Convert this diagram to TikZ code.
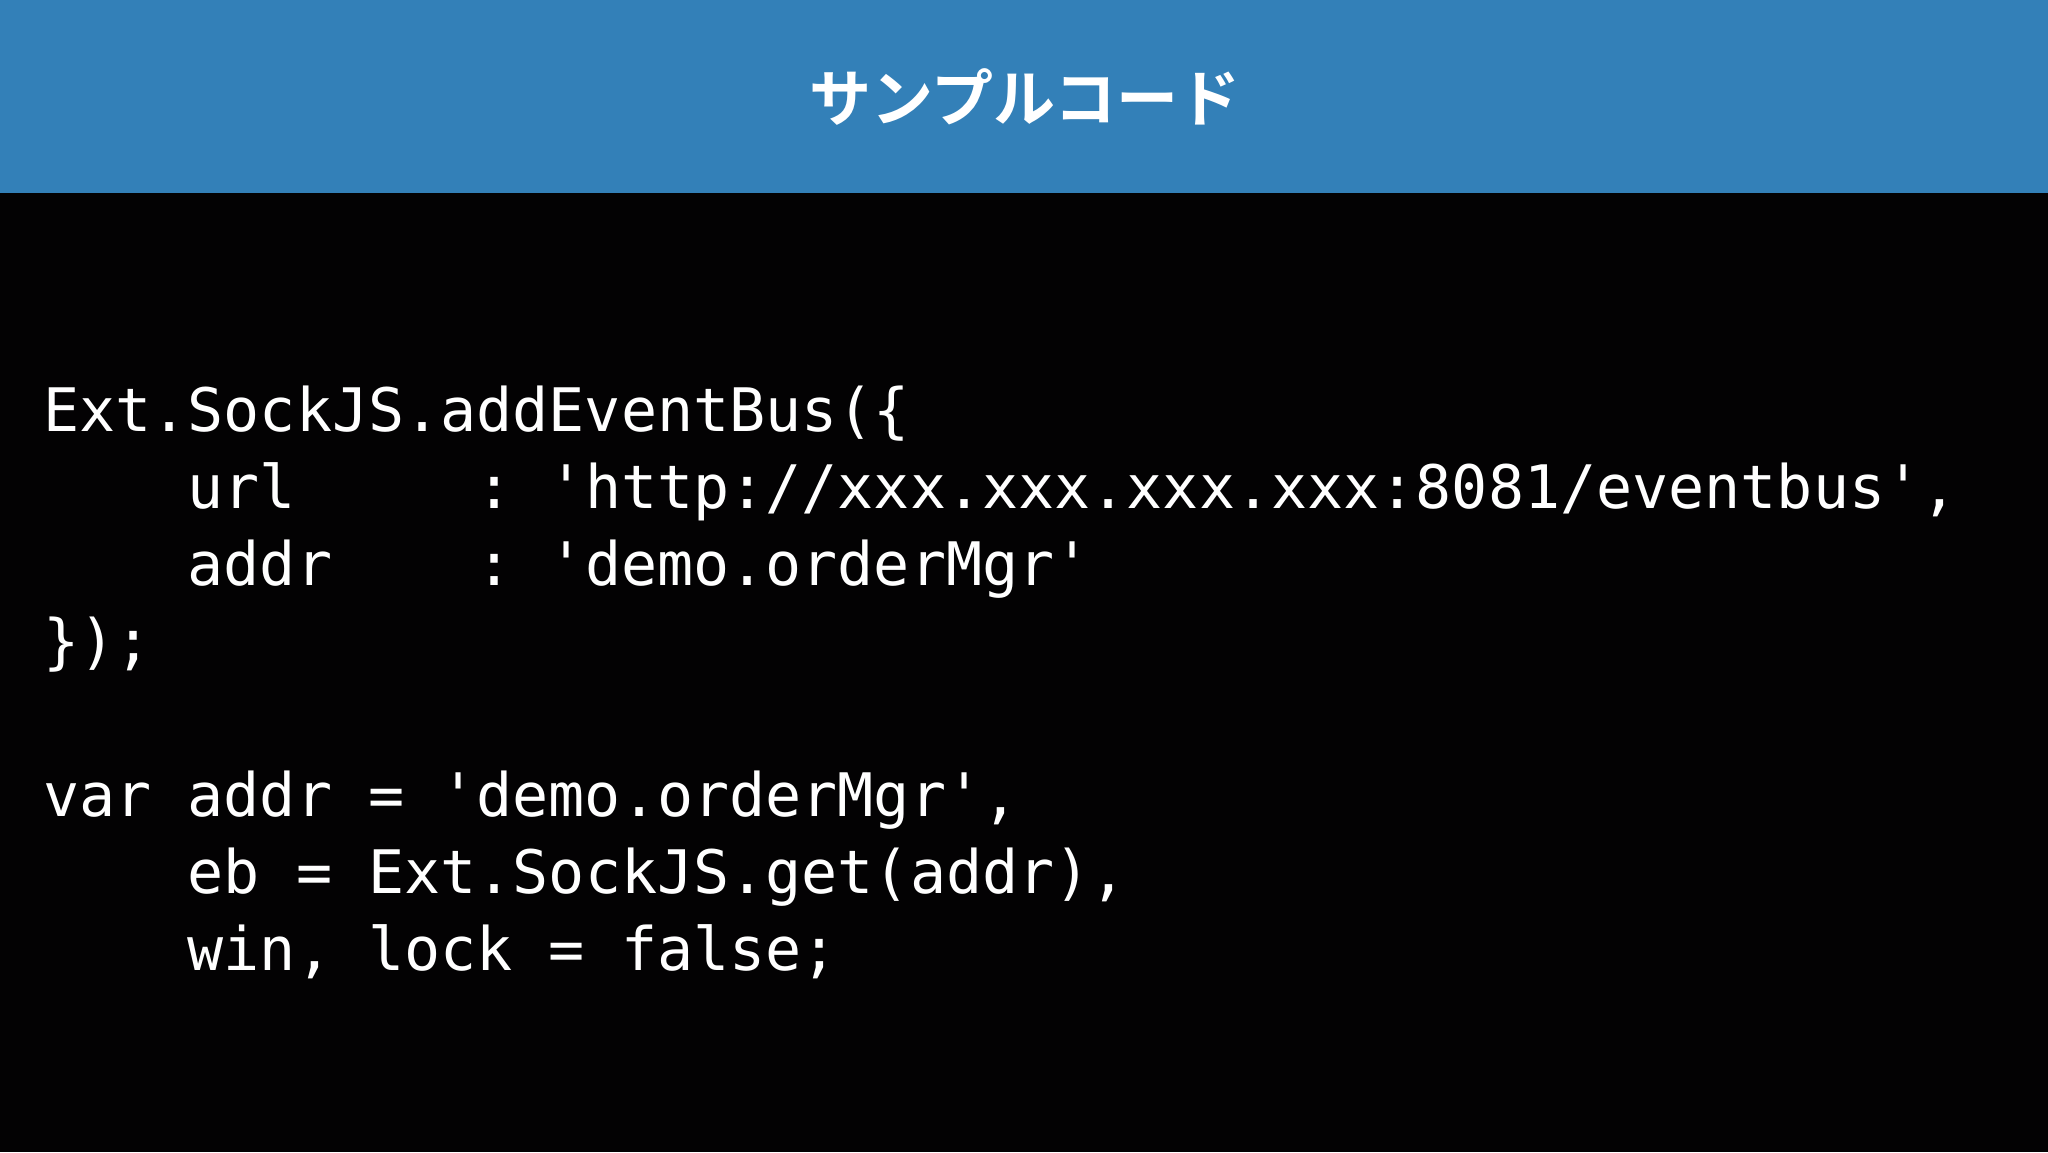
\documentclass[tikz,border=0pt]{standalone}
\usepackage{fontspec}
\newfontfamily\cjk{Noto Sans CJK JP Bold}
\newfontfamily\codefont{DejaVu Sans Mono}
\definecolor{hdr}{HTML}{3380B8}
\definecolor{bg}{HTML}{030203}
\begin{document}
\begin{tikzpicture}[x=1pt,y=1pt,
  code/.style={anchor=base west,inner sep=0pt,text=white,font=\codefont\fontsize{60}{60}\selectfont}]
\useasboundingbox (0,0) rectangle (2048,-1152);
\fill[bg] (0,0) rectangle (2048,-1152);
\fill[hdr] (0,0) rectangle (2048,-193);
\node[text=white,font=\cjk\fontsize{62}{62}\selectfont] (title) at (1025,-97) {サンプルコード};
\node[code] (l1) at (43,-431) {Ext.SockJS.addEventBus(\{};
\node[code] (l2) at (43,-508) {\ \ \ \ url\ \ \ \ \ :\ 'http://xxx.xxx.xxx.xxx:8081/eventbus',};
\node[code] (l3) at (43,-585) {\ \ \ \ addr\ \ \ \ :\ 'demo.orderMgr'};
\node[code] (l4) at (43,-662) {\});};
\node[code] (l5) at (43,-816) {var addr = 'demo.orderMgr',};
\node[code] (l6) at (43,-893) {\ \ \ \ eb = Ext.SockJS.get(addr),};
\node[code] (l7) at (43,-970) {\ \ \ \ win, lock = false;};
\end{tikzpicture}
\end{document}
